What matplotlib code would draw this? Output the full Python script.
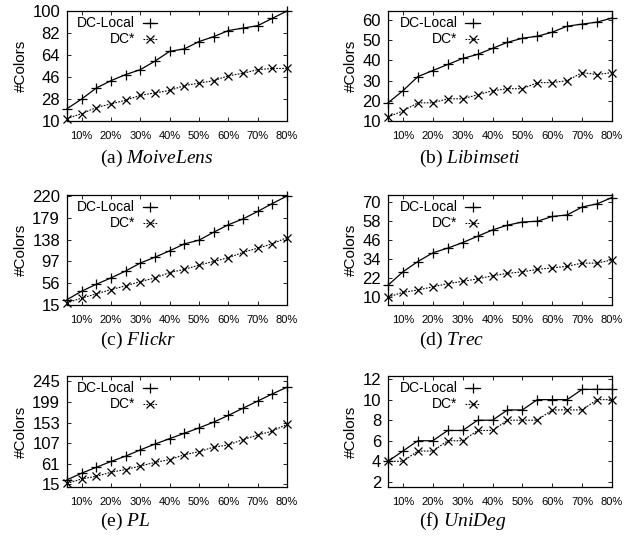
import numpy as np
import matplotlib
matplotlib.use("Agg")
import matplotlib.pyplot as plt

plt.rcParams['font.family'] = ['Liberation Sans', 'DejaVu Sans']
plt.rcParams['mathtext.fontset'] = 'custom'
plt.rcParams['mathtext.rm'] = 'Liberation Serif'
plt.rcParams['mathtext.it'] = 'Liberation Serif:italic'

# sampling ratio (%)
ratio = [5, 10, 15, 20, 25, 30, 35, 40, 45, 50, 55, 60, 65, 70, 75, 80]
xtick_vals = [10, 20, 30, 40, 50, 60, 70, 80]
xtick_labels = ['10%', '20%', '30%', '40%', '50%', '60%', '70%', '80%']

movielens_local = [20, 28, 37, 43, 48, 52, 59, 67, 69, 75, 79, 84, 86, 88, 94, 100]
movielens_star = [12, 16, 21, 24, 27, 31, 33, 35, 39, 41, 43, 47, 49, 52, 53, 53]
libimseti_local = [19, 25, 32, 35, 38, 41, 43, 46, 49, 51, 52, 54, 57, 58, 59, 61]
libimseti_star = [12, 15, 19, 19, 21, 21, 23, 25, 26, 26, 29, 29, 30, 34, 33, 34]
flickr_local = [25, 41, 54, 66, 79, 94, 105, 117, 130, 137, 152, 166, 177, 191, 206, 220]
flickr_star = [19, 28, 36, 44, 51, 59, 66, 76, 82, 90, 97, 104, 114, 122, 130, 142]
trec_local = [17.5, 26, 32.5, 38, 41, 44.5, 48.5, 52.5, 55.5, 57.5, 58, 61, 62, 67, 69, 73]
trec_star = [10, 13, 14.5, 16.5, 18.5, 20, 21.5, 23.5, 25, 26, 27.5, 28.5, 29.5, 31.5, 31.5, 33.5]
pl_local = [25, 40, 53, 66, 78, 92, 105, 117, 129, 141, 154, 169, 185, 201, 217, 232]
pl_star = [17, 27, 33, 42, 48, 56, 64, 70, 81, 88, 98, 103, 115, 125, 134, 149]
unideg_local = [4, 5, 6, 6, 7, 7, 8, 8, 9, 9, 10, 10, 10, 11, 11, 11]
unideg_star = [4, 4, 5, 5, 6, 6, 7, 7, 8, 8, 8, 9, 9, 9, 10, 10]

panels = [
    ('(a)', 'MoiveLens', movielens_local, movielens_star, (10, 100), [10, 28, 46, 64, 82, 100]),
    ('(b)', 'Libimseti', libimseti_local, libimseti_star, (10, 64.5), [10, 20, 30, 40, 50, 60]),
    ('(c)', 'Flickr', flickr_local, flickr_star, (15, 222), [15, 56, 97, 138, 179, 220]),
    ('(d)', 'Trec', trec_local, trec_star, (5, 74.6), [10, 22, 34, 46, 58, 70]),
    ('(e)', 'PL', pl_local, pl_star, (9, 257), [15, 61, 107, 153, 199, 245]),
    ('(f)', 'UniDeg', unideg_local, unideg_star, (1.5, 12.3), [2, 4, 6, 8, 10, 12]),
]

fig = plt.figure(figsize=(6.39, 5.46), dpi=100)
W, H = 639.0, 546.0
cols = [(67, 287), (388, 612)]
cap_x = [100, 419]
rows = [(11, 121), (195, 305), (376, 487)]
cap_y = [158, 340, 521]
dotted = (0, (1.5, 1.2))

for i, (tag, name, loc, star, ylim, yt) in enumerate(panels):
    r, c = divmod(i, 2)
    x0, x1 = cols[c]
    y0, y1 = rows[r]
    ax = fig.add_axes([x0 / W, 1 - y1 / H, (x1 - x0) / W, (y1 - y0) / H])
    ax.plot(ratio, loc, color='black', lw=0.9, marker='+', ms=7, mew=0.9, clip_on=False)
    ax.plot(ratio, star, color='black', lw=0.8, ls=dotted, marker='x', ms=5.5, mew=0.9, clip_on=False)
    ax.set_xlim(5, 80)
    ax.set_ylim(*ylim)
    ax.set_xticks(xtick_vals)
    ax.set_xticklabels(xtick_labels)
    ax.set_yticks(yt)
    ax.tick_params(direction='in', top=True, right=True, length=3, width=0.6)
    ax.tick_params(axis='x', labelsize=8, pad=7.5)
    ax.tick_params(axis='y', labelsize=12, pad=5)
    for s in ax.spines.values():
        s.set_linewidth(0.9)
    ax.set_ylabel('#Colors', fontsize=11, labelpad=3)

    # gnuplot style key: right-aligned text, sample to the right
    tr = ax.transAxes
    ax.text(0.31, 0.89, 'DC-Local', transform=tr, ha='right', va='center', fontsize=10)
    ax.text(0.31, 0.745, 'DC*', transform=tr, ha='right', va='center', fontsize=10)
    ax.plot([0.345, 0.41], [0.89, 0.89], transform=tr, color='black', lw=0.9)
    ax.plot([0.3775], [0.89], transform=tr, color='black', marker='+', ms=7, mew=0.9)
    ax.plot([0.345, 0.41], [0.745, 0.745], transform=tr, color='black', lw=0.8, ls=dotted)
    ax.plot([0.3775], [0.745], transform=tr, color='black', marker='x', ms=5.5, mew=0.9)

    fig.text(cap_x[c] / W, 1 - cap_y[r] / H, tag + r' $\mathit{' + name + '}$',
             ha='left', va='center', fontsize=14, family=['Liberation Serif'])

fig.savefig('out.png', dpi=100)
